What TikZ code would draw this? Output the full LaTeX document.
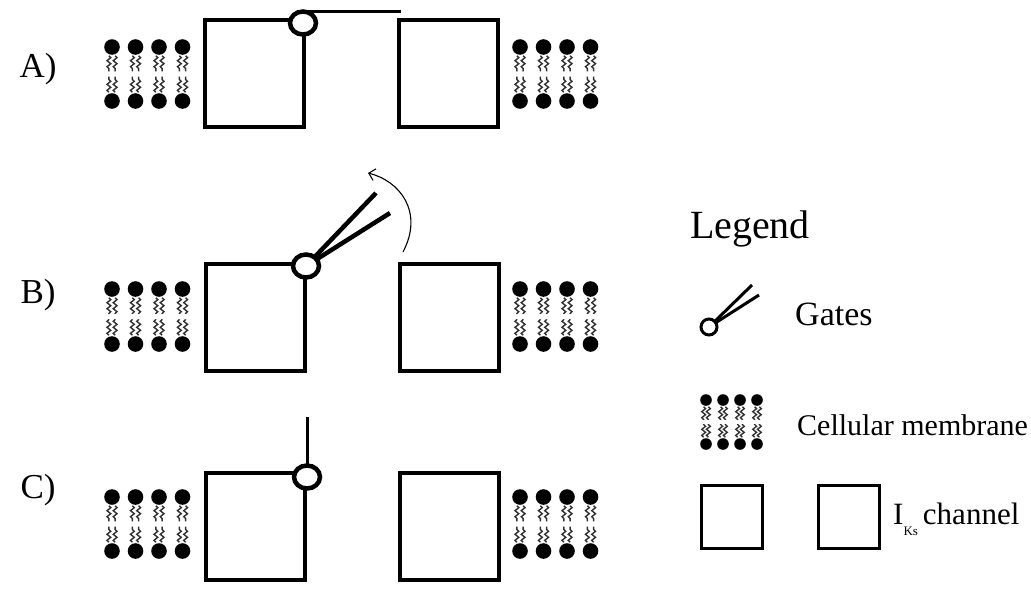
\documentclass[tikz,border=0pt]{standalone}
\usepackage{fontspec}
\setmainfont{Liberation Serif}
\usetikzlibrary{decorations.pathmorphing,arrows.meta,shapes.geometric}

\begin{document}
\begin{tikzpicture}[x=1pt,y=-1pt,
  chan/.style={draw, line width=4pt, minimum width=99pt, minimum height=107pt, inner sep=0pt, outer sep=0pt},
  keychan/.style={draw, line width=3pt, minimum width=61pt, minimum height=63pt, inner sep=0pt, outer sep=0pt},
  gatering/.style={draw, fill=white, ellipse, line width=4.5pt, minimum width=26pt, minimum height=23pt, inner sep=0pt, outer sep=0pt},
  keyring/.style={draw, fill=white, circle, line width=3pt, minimum size=16pt, inner sep=0pt, outer sep=0pt},
  gatebar/.style={line width=3pt},
  gateleaf/.style={line width=4.5pt},
  keyleaf/.style={line width=3pt},
  swing/.style={line width=1.1pt, -{Straight Barb[length=6pt,width=12pt]}},
  rowlabel/.style={font=\fontsize{35}{40}\selectfont, inner sep=0pt},
  keytext/.style={anchor=west, inner sep=0pt},
  tail/.style={line width=1.4pt, black!80, decorate, decoration={snake, amplitude=1.9pt, segment length=6pt}},
  pics/membrane/.style n args={3}{code={
    \foreach \i in {0,1,2,3}{
      \fill (\i*#1,0) circle (#2pt);
      \fill (\i*#1,#3) circle (#2pt);
      \foreach \s in {-1,1}{
        \draw[tail] (\i*#1+\s*0.4*#2, #2+1) -- (\i*#1+\s*0.4*#2, 0.45*#3);
        \draw[tail] (\i*#1+\s*0.4*#2, #3-#2-1) -- (\i*#1+\s*0.4*#2, 0.55*#3);
      }
    }
  }},
]
\fill[white] (0,0) rectangle (1031,613);
\useasboundingbox (0,0) rectangle (1031,613);

% ---------- A) closed gate ----------
\node[rowlabel] (labA) at (38,69) {A)};
\pic at (112,47) {membrane={23.5}{7.8}{54}};
\pic at (520,47) {membrane={23.5}{7.8}{54}};
\node[chan] (aL) at (254.5,73.5) {};
\node[chan] (aR) at (448.5,73.5) {};
\coordinate (aBarEnd) at (401,13);
\node[gatering] (aG) at (303,23) {};
\draw[gatebar] (aG.75) -- (aG.75 -| aBarEnd);

% ---------- B) opening gate ----------
\node[rowlabel] (labB) at (38,295) {B)};
\pic at (112,289) {membrane={23.5}{7.8}{55}};
\pic at (520,289) {membrane={23.5}{7.8}{55}};
\node[chan] (bL) at (255,317) {};
\node[chan] (bR) at (449,317) {};
\coordinate (bHinge) at (306,266);
\coordinate (bTip1) at (376,193);
\coordinate (bTip2) at (390,213);
\draw[gateleaf] (bHinge) -- (bTip1);
\draw[gateleaf] (bHinge) -- (bTip2);
\node[gatering] (bG) at (bHinge) {};
\coordinate (bArcStart) at (403,252);
\coordinate (bArcEnd) at (368,173);
\draw[swing] (bArcStart) .. controls (424,212) and (400,181) .. (bArcEnd);

% ---------- C) open gate ----------
\node[rowlabel] (labC) at (38,490) {C)};
\pic at (112,497) {membrane={23.5}{7.8}{54}};
\pic at (520,497) {membrane={23.5}{7.8}{54}};
\node[chan] (cL) at (255,526.5) {};
\node[chan] (cR) at (449,526.5) {};
\coordinate (cHinge) at (307,477);
\coordinate (cTop) at (307,417);
\draw[gatebar] (cTop) -- (cHinge);
\node[gatering] (cG) at (cHinge) {};

% ---------- Legend ----------
\node[font=\fontsize{40}{46}\selectfont, inner sep=0pt] (legend) at (750,229) {Legend};

\coordinate (kHinge) at (709,327);
\coordinate (kTip1) at (752,285);
\coordinate (kTip2) at (759,295);
\draw[keyleaf] (kHinge) -- (kTip1);
\draw[keyleaf] (kHinge) -- (kTip2);
\node[keyring] (kG) at (kHinge) {};
\node[keytext, font=\fontsize{34}{38}\selectfont] (kGates) at (795,314) {Gates};

\pic at (706,400) {membrane={17}{5.8}{44}};
\node[keytext, font=\fontsize{30}{34}\selectfont] (kMem) at (797,425) {Cellular membrane};

\node[keychan] (kL) at (732,517) {};
\node[keychan] (kR) at (849,517) {};
\node[keytext, font=\fontsize{31}{36}\selectfont] (kChan) at (893,519)
  {I\raisebox{-11pt}{\fontsize{13}{14}\selectfont Ks}\hspace{5pt}channel};
\end{tikzpicture}
\end{document}
